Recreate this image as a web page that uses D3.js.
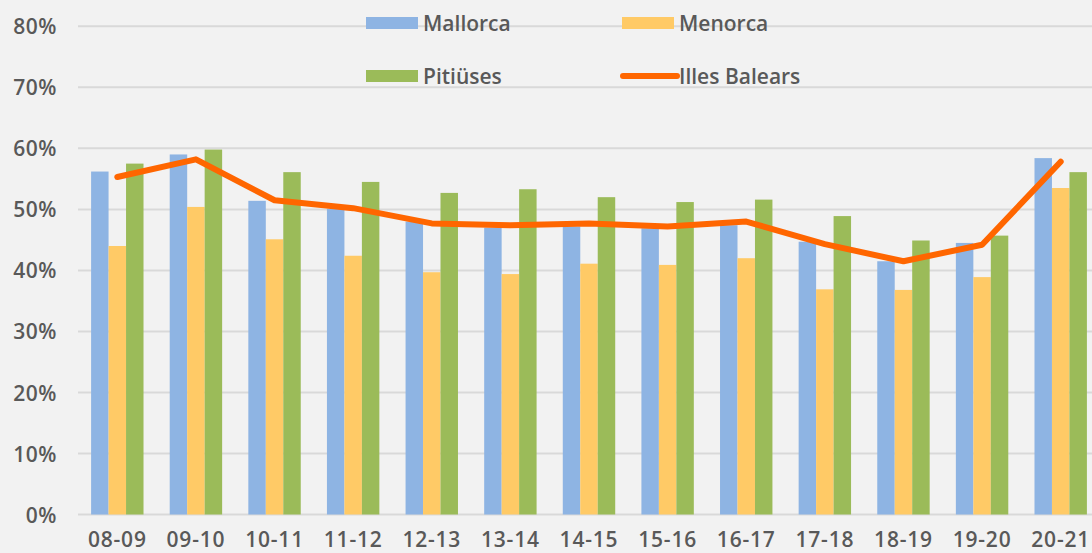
<!DOCTYPE html>
<html><head><meta charset="utf-8">
<script src="https://cdn.jsdelivr.net/npm/d3@7/dist/d3.min.js"></script>
<style>
html,body{margin:0;padding:0;background:#F2F2F2;overflow:hidden;}
text{font-family:"Open Sans",Roboto,sans-serif;font-weight:600;fill:#595959;}
</style></head>
<body><svg id="c" width="1092" height="553"></svg>
<script>
const categories = ["08-09","09-10","10-11","11-12","12-13","13-14","14-15","15-16","16-17","17-18","18-19","19-20","20-21"];
const mallorca = [56.2,59.0,51.4,50.1,48.0,47.0,47.2,46.9,47.4,44.7,41.5,44.5,58.4];
const menorca  = [44.0,50.4,45.1,42.4,39.7,39.4,41.1,40.9,42.0,36.9,36.8,38.9,53.5];
const pitiuses = [57.5,59.8,56.1,54.5,52.7,53.3,52.0,51.2,51.6,48.9,44.9,45.7,56.1];
const balears  = [55.3,58.2,51.5,50.2,47.7,47.4,47.7,47.2,48.0,44.3,41.5,44.2,57.8];
const yTicks = [0,10,20,30,40,50,60,70,80];
const seriesNames = ["Mallorca","Menorca","Pitiüses","Illes Balears"];
const colors = {"Mallorca":"#8EB4E3","Menorca":"#FFCA66","Pitiüses":"#9BBB59","Illes Balears":"#FF6600"};

(function(){
const svg = d3.select("#c");
const pLeft = 78, pRight = 1100, pTop = 26.3, pBottom = 514.5;
const x = d3.scaleBand().domain(categories).range([pLeft, pRight]).paddingInner(0).paddingOuter(0);
const bw = x.bandwidth()/4.5;
const y = d3.scaleLinear().domain([0,80]).range([pBottom, pTop]);
const FONT = '"Open Sans",Roboto,sans-serif';

// gridlines
svg.append("g").selectAll("line").data(yTicks).join("line")
  .attr("x1", pLeft).attr("x2", pRight)
  .attr("y1", d=>y(d)).attr("y2", d=>y(d))
  .attr("stroke","#D9D9D9").attr("stroke-width",2);

// y axis labels
const yAxis = d3.axisLeft(y).tickValues(yTicks).tickFormat(d=>d+"%").tickSize(0).tickPadding(0);
const ya = svg.append("g").attr("transform","translate(57,0)").call(yAxis);
ya.select(".domain").remove();
ya.selectAll("text").attr("font-size",21).attr("dy","0.36em").style("font-family",FONT).style("font-weight",600).style("letter-spacing","0.5px").attr("fill","#595959");

// x axis labels
const xAxis = d3.axisBottom(x).tickSize(0).tickPadding(0);
const xa = svg.append("g").attr("transform","translate(0,530)").call(xAxis);
xa.select(".domain").remove();
xa.selectAll("text").attr("font-size",21).attr("dy","0.8em").style("font-family",FONT).style("font-weight",600).style("letter-spacing","0.8px").attr("fill","#595959");

// bars
const barSeries = [["Mallorca",mallorca],["Menorca",menorca],["Pitiüses",pitiuses]];
barSeries.forEach(([name,vals],i)=>{
  svg.append("g").selectAll("rect").data(vals).join("rect")
    .attr("x",(d,j)=>x(categories[j]) + x.bandwidth()/2 - 1.5*bw + i*bw)
    .attr("width",bw)
    .attr("y",d=>y(d))
    .attr("height",d=>pBottom - y(d))
    .attr("fill",colors[name]);
});

// line
const line = d3.line().x((d,j)=>x(categories[j])+x.bandwidth()/2).y(d=>y(d));
svg.append("path").datum(balears).attr("d",line)
  .attr("fill","none").attr("stroke",colors["Illes Balears"]).attr("stroke-width",6)
  .attr("stroke-linecap","round").attr("stroke-linejoin","round");

// legend
const legendPos = [[366,23],[622,23],[366,76],[622,76]];
seriesNames.forEach((name,i)=>{
  const [lx,ly] = legendPos[i];
  const g = svg.append("g");
  if(name==="Illes Balears"){
    g.append("line").attr("x1",lx+1).attr("x2",lx+55).attr("y1",ly).attr("y2",ly)
      .attr("stroke",colors[name]).attr("stroke-width",6).attr("stroke-linecap","round");
  } else {
    g.append("rect").attr("x",lx).attr("y",ly-6).attr("width",52).attr("height",12).attr("fill",colors[name]);
  }
  g.append("text").attr("x",lx+57).attr("y",ly).attr("dy","0.36em").attr("font-size",21).text(name);
});
})();
</script></body></html>
